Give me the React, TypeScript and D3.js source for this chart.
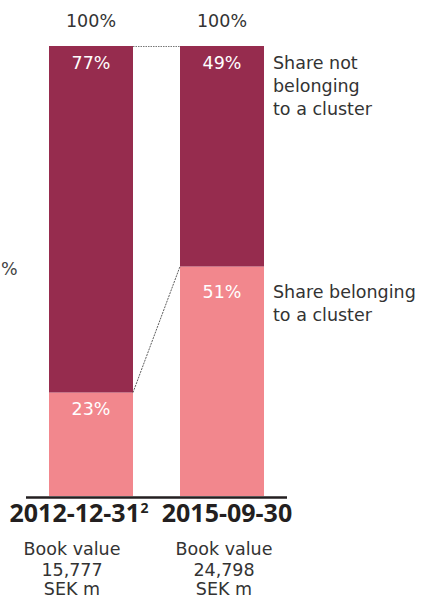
import React from "react";
import * as d3 from "d3";

const categories = ["2012-12-31", "2015-09-30"];
const superscripts = ["2", ""];
const belonging = [23, 51];
const notBelonging = [77, 49];
const totals = ["100%", "100%"];
const bookValues = ["15,777", "24,798"];
const seriesLabels = [
  ["Share not", "belonging", "to a cluster"],
  ["Share belonging", "to a cluster"],
];

const W = 438;
const H = 598;
const FONT = "'DejaVu Sans', sans-serif";
const BOLD = "'Open Sans', 'DejaVu Sans', sans-serif";
const DARK = "#962C4E";
const PINK = "#F2878D";
const TXT = "#333333";

export default function App() {
  const x = d3.scaleBand<string>().domain(categories).range([49, 264]).paddingInner(47 / 131).paddingOuter(0);
  const y = d3.scaleLinear().domain([0, 100]).range([496, 46]);
  const bw = x.bandwidth();
  const stack = d3.stack<any>().keys(["b", "n"])(categories.map((c, i) => ({ c, b: belonging[i], n: notBelonging[i] })));

  const x0 = x(categories[0])! + bw;
  const x1 = x(categories[1])!;
  const dateCx = [79, 227];
  const bookCx = [72, 224];
  const innerOffset = [22, 31];

  return (
    <svg width={W} height={H} style={{ position: "absolute", left: 0, top: 0, background: "#fff" }} fontFamily={FONT}>
      {stack.map((layer, li) =>
        layer.map((d, i) => (
          <rect key={`${li}-${i}`} x={x(categories[i])} y={y(d[1])} width={bw} height={y(d[0]) - y(d[1])} fill={li === 0 ? PINK : DARK} />
        ))
      )}
      {/* connectors */}
      <line x1={x0} x2={x1} y1={y(100) + 0.5} y2={y(100) + 0.5} stroke="#777" strokeWidth={1} strokeDasharray="1.5,1" />
      <line x1={x0} x2={x1} y1={y(belonging[0])} y2={y(belonging[1])} stroke="#333" strokeWidth={0.8} strokeDasharray="2,1" />
      {/* axis */}
      <line x1={26} x2={287} y1={497.5} y2={497.5} stroke="#231F20" strokeWidth={2.5} />
      {categories.map((c, i) => {
        const cx = x(c)! + bw / 2;
        return (
          <g key={c}>
            <text x={cx} y={27} textAnchor="middle" fontSize={17.5} fill={TXT}>{totals[i]}</text>
            <text x={cx} y={69} textAnchor="middle" fontSize={17.5} fill="#fff">{notBelonging[i]}%</text>
            <text x={cx} y={y(belonging[i]) + innerOffset[i]} textAnchor="middle" fontSize={17.5} fill="#fff">{belonging[i]}%</text>
            <text x={dateCx[i]} y={522} textAnchor="middle" fontSize={25} fontWeight="bold" fill="#231F20" fontFamily={BOLD}>
              {c}
              {superscripts[i] && <tspan fontSize={14} dy={-9} dx={0.5}>{superscripts[i]}</tspan>}
            </text>
            <text textAnchor="middle" fontSize={17.5} fill={TXT}>
              <tspan x={bookCx[i]} y={555}>Book value</tspan>
              <tspan x={bookCx[i]} y={576}>{bookValues[i]}</tspan>
              <tspan x={bookCx[i]} y={595}>SEK m</tspan>
            </text>
          </g>
        );
      })}
      <text fontSize={17.5} fill={TXT}>
        {seriesLabels[0].map((t, k) => (
          <tspan key={k} x={273} y={69 + k * 23}>{t}</tspan>
        ))}
      </text>
      <text fontSize={17.5} fill={TXT}>
        {seriesLabels[1].map((t, k) => (
          <tspan key={k} x={273} y={298 + k * 23}>{t}</tspan>
        ))}
      </text>
      <text x={1} y={275} fontSize={17.5} fill="#444">%</text>
    </svg>
  );
}
